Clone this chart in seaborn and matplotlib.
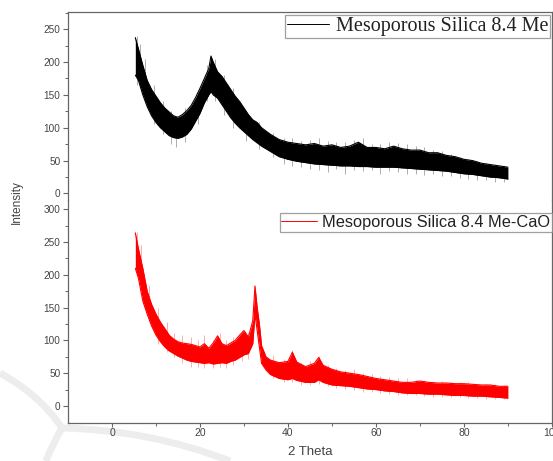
import numpy as np
import pandas as pd
import seaborn as sns
import matplotlib.pyplot as plt
from matplotlib.path import Path
from matplotlib.patches import PathPatch

# envelope of the noisy XRD traces (2 theta, intensity low/high)
theta_me = [5.3, 6, 7, 8, 9, 10, 11, 12, 13, 14, 15, 16, 17, 18, 19, 20, 21, 22, 22.5, 23,
            24, 25, 26, 27, 28, 29, 30, 31, 32, 33, 34, 35, 36, 37, 38, 40, 42, 44, 46, 48,
            50, 52, 54, 56, 58, 60, 62, 64, 66, 68, 70, 72, 74, 76, 78, 80, 82, 84, 86, 88, 90]
low_me = [180, 172, 150, 132, 118, 108, 100, 94, 88, 85, 84, 86, 90, 98, 110, 122, 138, 150, 155, 150,
          145, 135, 125, 115, 107, 100, 94, 88, 82, 77, 72, 68, 64, 60, 56, 52, 49, 47, 45, 44,
          43, 42, 42, 41, 41, 40, 40, 40, 39, 38, 37, 36, 35, 34, 32, 30, 29, 27, 25, 24, 22]
high_me = [237, 220, 195, 172, 158, 148, 138, 130, 124, 118, 116, 120, 126, 134, 146, 160, 175, 190, 209, 200,
           185, 178, 168, 158, 148, 140, 130, 120, 112, 108, 100, 95, 90, 86, 82, 78, 76, 74, 76, 72,
           74, 70, 72, 78, 70, 70, 68, 72, 68, 66, 66, 62, 62, 58, 56, 52, 50, 46, 44, 42, 40]

# single noise spikes sticking out of the band (2 theta, bottom, top)
spike_me_x = [5.6, 6.4, 7.5, 9.5, 11.5, 13.5, 14.5, 16.5, 19.5, 21.5, 23.5, 25.5, 27.5, 30.5,
              33.5, 36.5, 39, 41, 43, 45, 47, 49, 51, 53, 55, 57, 59, 61, 63, 65, 67, 69, 71,
              73, 75, 77, 79, 81, 83, 85, 87, 89]
spike_me_lo = [165, 160, 140, 105, 90, 75, 70, 78, 105, 140, 140, 120, 100, 80,
               68, 55, 45, 42, 40, 38, 36, 32, 38, 30, 36, 34, 35, 30, 34, 32, 30, 30, 28,
               30, 26, 26, 24, 22, 20, 20, 17, 17]
spike_me_hi = [240, 228, 205, 165, 140, 125, 115, 130, 155, 195, 205, 180, 160, 125,
               108, 92, 85, 84, 80, 82, 84, 80, 78, 78, 82, 84, 76, 75, 78, 77, 76, 72, 70,
               66, 64, 60, 56, 52, 50, 46, 44, 42]

theta_cao = [5.3, 6, 7, 8, 9, 10, 11, 12, 13, 14, 15, 16, 17, 18, 19, 20, 21, 22, 23, 24, 25,
             26, 27, 28, 29, 30, 31, 32, 32.5, 33, 33.5, 34, 35, 36, 38, 40, 41, 42, 44, 46, 47,
             48, 50, 52, 54, 56, 58, 60, 62, 64, 66, 68, 70, 72, 74, 76, 78, 80, 82, 84, 86, 88, 90]
low_cao = [210, 195, 160, 140, 122, 108, 98, 90, 84, 80, 76, 73, 70, 68, 67, 66, 65, 66, 64, 65, 66,
           65, 68, 70, 74, 78, 80, 95, 140, 115, 90, 65, 55, 48, 42, 40, 42, 39, 36, 36, 40,
           36, 32, 31, 30, 28, 26, 25, 23, 22, 20, 19, 19, 18, 18, 17, 16, 16, 15, 15, 14, 13, 12]
high_cao = [264, 240, 210, 175, 155, 140, 128, 118, 108, 102, 98, 96, 95, 94, 92, 90, 95, 88, 96, 107, 95,
            92, 96, 100, 108, 115, 105, 130, 183, 150, 125, 92, 75, 70, 66, 68, 82, 67, 60, 65, 74,
            62, 56, 52, 50, 48, 45, 42, 40, 38, 36, 36, 38, 36, 35, 35, 34, 34, 33, 32, 32, 30, 30]

spike_cao_x = [5.6, 6.5, 8.5, 10.5, 12.5, 14, 16, 18, 19.5, 21, 23, 24.5, 26, 27.5, 29.5, 31,
               36.5, 39, 41, 43, 45, 47, 49, 51, 53, 55, 57, 59, 61, 63, 65, 67, 69, 71, 73,
               75, 77, 79, 81, 83, 85, 87, 89]
spike_cao_lo = [200, 180, 130, 95, 82, 75, 65, 60, 60, 58, 58, 60, 58, 62, 68, 72,
                42, 36, 36, 32, 32, 34, 30, 27, 26, 25, 22, 22, 20, 18, 17, 16, 16, 15, 14,
                14, 14, 13, 12, 12, 11, 11, 10]
spike_cao_hi = [266, 245, 185, 150, 128, 112, 108, 105, 100, 108, 100, 112, 100, 105, 115, 112,
                78, 72, 85, 66, 68, 76, 62, 58, 55, 56, 50, 48, 46, 44, 42, 42, 40, 40, 38,
                38, 36, 36, 36, 34, 34, 33, 32]

label_me = "Mesoporous Silica 8.4 Me"
label_cao = "Mesoporous Silica 8.4 Me-CaO"

sns.set_theme(style="ticks")
plt.rcParams['font.family'] = ['Liberation Sans', 'DejaVu Sans']

fig = plt.figure(figsize=(5.53, 4.61), dpi=100)
ax_top = fig.add_axes([0.123, 0.566, 0.875, 0.408])
ax_bot = fig.add_axes([0.123, 0.0824, 0.875, 0.4836], sharex=ax_top)
for ax in (ax_top, ax_bot):
    ax.patch.set_alpha(0)

spine_col = '#666666'
text_col = '#444444'

# faint watermark strokes in the lower left corner
wm = [
    [(0, 373), (40, 395), (62, 428)],
    [(62, 428), (150, 430), (230, 461)],
    [(62, 428), (52, 445), (46, 461)],
]
for pts in wm:
    verts = [(x / 553, 1 - y / 461) for x, y in pts]
    p = Path(verts, [Path.MOVETO, Path.CURVE3, Path.CURVE3])
    fig.add_artist(PathPatch(p, transform=fig.transFigure, fill=False,
                             edgecolor='#ededed', lw=5, zorder=-1))


def draw_trace(ax, x, lo, hi, sx, slo, shi, color, label):
    df = pd.DataFrame({'theta': x, 'low': lo, 'high': hi})
    ax.vlines(sx, slo, shi, color=color, lw=0.5, alpha=0.45)
    ax.fill_between(df['theta'], df['low'], df['high'], color=color, lw=0)
    sns.lineplot(data=df, x='theta', y='high', color=color, lw=0.8, ax=ax, label=label)
    sns.lineplot(data=df, x='theta', y='low', color=color, lw=0.8, ax=ax, legend=False)


draw_trace(ax_top, theta_me, low_me, high_me, spike_me_x, spike_me_lo, spike_me_hi,
           'black', label_me)
draw_trace(ax_bot, theta_cao, low_cao, high_cao, spike_cao_x, spike_cao_lo, spike_cao_hi,
           '#ff0000', label_cao)

ax_top.set_xlim(-10, 100)
ax_top.set_ylim(-10, 276)
ax_bot.set_ylim(-26, 314)

for ax in (ax_top, ax_bot):
    for s in ax.spines.values():
        s.set_color(spine_col)
        s.set_linewidth(0.9)
    ax.set_ylabel('')
    ax.set_xlabel('')
    ax.set_yticks([0, 50, 100, 150, 200, 250] + ([300] if ax is ax_bot else []))
    ax.set_yticks(np.arange(25, 300, 50), minor=True)
    ax.tick_params(axis='y', which='major', length=3.5, width=0.8, color=spine_col,
                   labelsize=7.2, labelcolor=text_col, pad=2)
    ax.tick_params(axis='y', which='minor', length=2, width=0.7, color=spine_col)

ax_top.spines['bottom'].set_visible(False)
ax_bot.spines['top'].set_visible(False)
ax_top.tick_params(axis='x', which='both', bottom=False, labelbottom=False)

ax_bot.set_xticks([0, 20, 40, 60, 80, 100])
ax_bot.set_xticks([10, 30, 50, 70, 90], minor=True)
ax_bot.tick_params(axis='x', which='major', length=3, width=0.8, color=spine_col,
                   labelsize=7.5, labelcolor=text_col, pad=0.5)
ax_bot.tick_params(axis='x', which='minor', length=2, width=0.7, color=spine_col)
ax_bot.set_xlabel('2 Theta', fontsize=9.5, color=text_col, labelpad=6)

fig.text(0.031, 0.562, 'Intensity', rotation=90, fontsize=8.5, color=text_col,
         ha='center', va='center')

leg1 = ax_top.legend(loc='upper right', bbox_to_anchor=(0.997, 0.986), frameon=True,
                     fancybox=False, edgecolor='#888888', borderpad=0.1, handlelength=2.1,
                     handletextpad=0.35, borderaxespad=0,
                     prop={'family': 'Liberation Serif', 'size': 14.5})
leg1.get_frame().set_linewidth(0.9)
leg2 = ax_bot.legend(loc='upper right', bbox_to_anchor=(1.0, 0.94), frameon=True,
                     fancybox=False, edgecolor='#888888', borderpad=0.1, handlelength=2.2,
                     handletextpad=0.3, borderaxespad=0,
                     prop={'family': 'Liberation Sans', 'size': 11.8})
leg2.get_frame().set_linewidth(0.9)
for leg in (leg1, leg2):
    for t in leg.get_texts():
        t.set_color('#222222')
    for h in leg.get_lines():
        h.set_linewidth(0.7)

fig.savefig('out.png', dpi=100)
